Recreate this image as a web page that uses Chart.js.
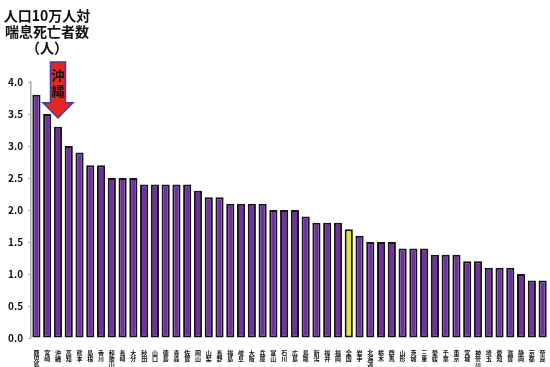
<!DOCTYPE html>
<html>
<head>
<meta charset="utf-8">
<script src="https://cdn.jsdelivr.net/npm/chart.js@4/dist/chart.umd.min.js"></script>
<style>
  html, body { margin: 0; padding: 0; background: #fff; }
  #wrap { width: 550px; height: 367px; }
</style>
</head>
<body>
<div id="wrap"><canvas id="c" width="550" height="367"></canvas></div>
<script>
// 都道府県（喘息死亡率の高い順）
const prefectures = [
  "鹿児島", "宮崎", "沖縄", "高知", "熊本", "島根", "香川", "和歌山", "長崎", "大分",
  "秋田", "山口", "徳島", "青森", "佐賀", "岡山", "山梨", "長野", "福島", "岐阜",
  "大阪", "兵庫", "富山", "石川", "広島", "鳥取", "新潟", "福井", "福岡", "全国",
  "岩手", "北海道", "栃木", "群馬", "山形", "茨城", "三重", "愛媛", "千葉", "東京",
  "宮城", "神奈川", "埼玉", "愛知", "滋賀", "静岡", "京都", "奈良"
];
// 人口10万人対 喘息死亡者数
const deathRate = [
  3.8, 3.5, 3.3, 3.0, 2.9, 2.7, 2.7, 2.5, 2.5, 2.5,
  2.4, 2.4, 2.4, 2.4, 2.4, 2.3, 2.2, 2.2, 2.1, 2.1,
  2.1, 2.1, 2.0, 2.0, 2.0, 1.9, 1.8, 1.8, 1.8, 1.7,
  1.6, 1.5, 1.5, 1.5, 1.4, 1.4, 1.4, 1.3, 1.3, 1.3,
  1.2, 1.2, 1.1, 1.1, 1.1, 1.0, 0.9, 0.9
];
const yTicks = [0, 0.5, 1.0, 1.5, 2.0, 2.5, 3.0, 3.5, 4.0];
const titleLines = ["人口10万人対", "喘息死亡者数", "（人）"];
const highlight = "沖縄";

const FONT = '"Noto Sans CJK JP", "Noto Sans", sans-serif';
const PURPLE = "#7030a0";
const YELLOW = "#e4e42a";

// ラベルは縦書き（1文字ずつ改行）
const verticalLabels = prefectures.map(p => p.split(""));
const barColors = prefectures.map(p => p === "全国" ? YELLOW : PURPLE);

// タイトルと「沖縄」矢印を描く
const overlayPlugin = {
  id: "overlay",
  afterDraw(chart) {
    const { ctx, scales } = chart;
    ctx.save();
    ctx.fillStyle = "#111";
    ctx.font = "bold 14px " + FONT;
    ctx.textAlign = "center";
    ctx.textBaseline = "middle";
    ctx.fillText(titleLines[0], 47, 16);
    ctx.fillText(titleLines[1], 47, 32);
    ctx.fillText(titleLines[2], 47, 48);

    // 矢印
    const idx = prefectures.indexOf(highlight);
    const cx = scales.x.getPixelForValue(idx);
    const tipY = scales.y.getPixelForValue(deathRate[idx]) - 9;
    const shaftW = 7.5, headW = 15, headH = 15, topY = 62;
    ctx.beginPath();
    ctx.moveTo(cx - shaftW, topY);
    ctx.lineTo(cx + shaftW, topY);
    ctx.lineTo(cx + shaftW, tipY - headH);
    ctx.lineTo(cx + headW, tipY - headH);
    ctx.lineTo(cx, tipY);
    ctx.lineTo(cx - headW, tipY - headH);
    ctx.lineTo(cx - shaftW, tipY - headH);
    ctx.closePath();
    ctx.fillStyle = "#e8251f";
    ctx.fill();
    ctx.strokeStyle = "#3b3fa8";
    ctx.lineWidth = 1.5;
    ctx.stroke();

    ctx.fillStyle = "#111";
    ctx.font = "bold 13px " + FONT;
    ctx.fillText(highlight[0], cx, 75);
    ctx.fillText(highlight[1], cx, 91);
    ctx.restore();
  }
};

new Chart(document.getElementById("c"), {
  type: "bar",
  data: {
    labels: verticalLabels,
    datasets: [{
      data: deathRate,
      backgroundColor: barColors,
      borderColor: "#161616",
      borderWidth: 2,
      borderSkipped: false,
      barPercentage: 0.76,
      categoryPercentage: 1.0
    }]
  },
  options: {
    responsive: false,
    animation: false,
    layout: { padding: { top: 82, left: 3, right: 2, bottom: -4 } },
    plugins: {
      legend: { display: false },
      tooltip: { enabled: false }
    },
    scales: {
      x: {
        grid: { display: false },
        border: { display: false },
        ticks: {
          autoSkip: false,
          maxRotation: 0,
          minRotation: 0,
          padding: 3,
          color: "#111",
          font: { family: FONT, size: 6, weight: "bold", lineHeight: 1.05 }
        }
      },
      y: {
        min: 0,
        max: 4,
        afterBuildTicks(axis) {
          axis.ticks = yTicks.map(v => ({ value: v }));
        },
        grid: { drawOnChartArea: false, tickLength: 3, color: "#bbb" },
        border: { display: true, color: "#aaa", width: 1.5 },
        ticks: {
          padding: 5,
          color: "#111",
          font: { family: FONT, size: 10, weight: "bold" },
          callback: v => Number(v).toFixed(1)
        }
      }
    }
  },
  plugins: [overlayPlugin]
});
</script>
</body>
</html>
